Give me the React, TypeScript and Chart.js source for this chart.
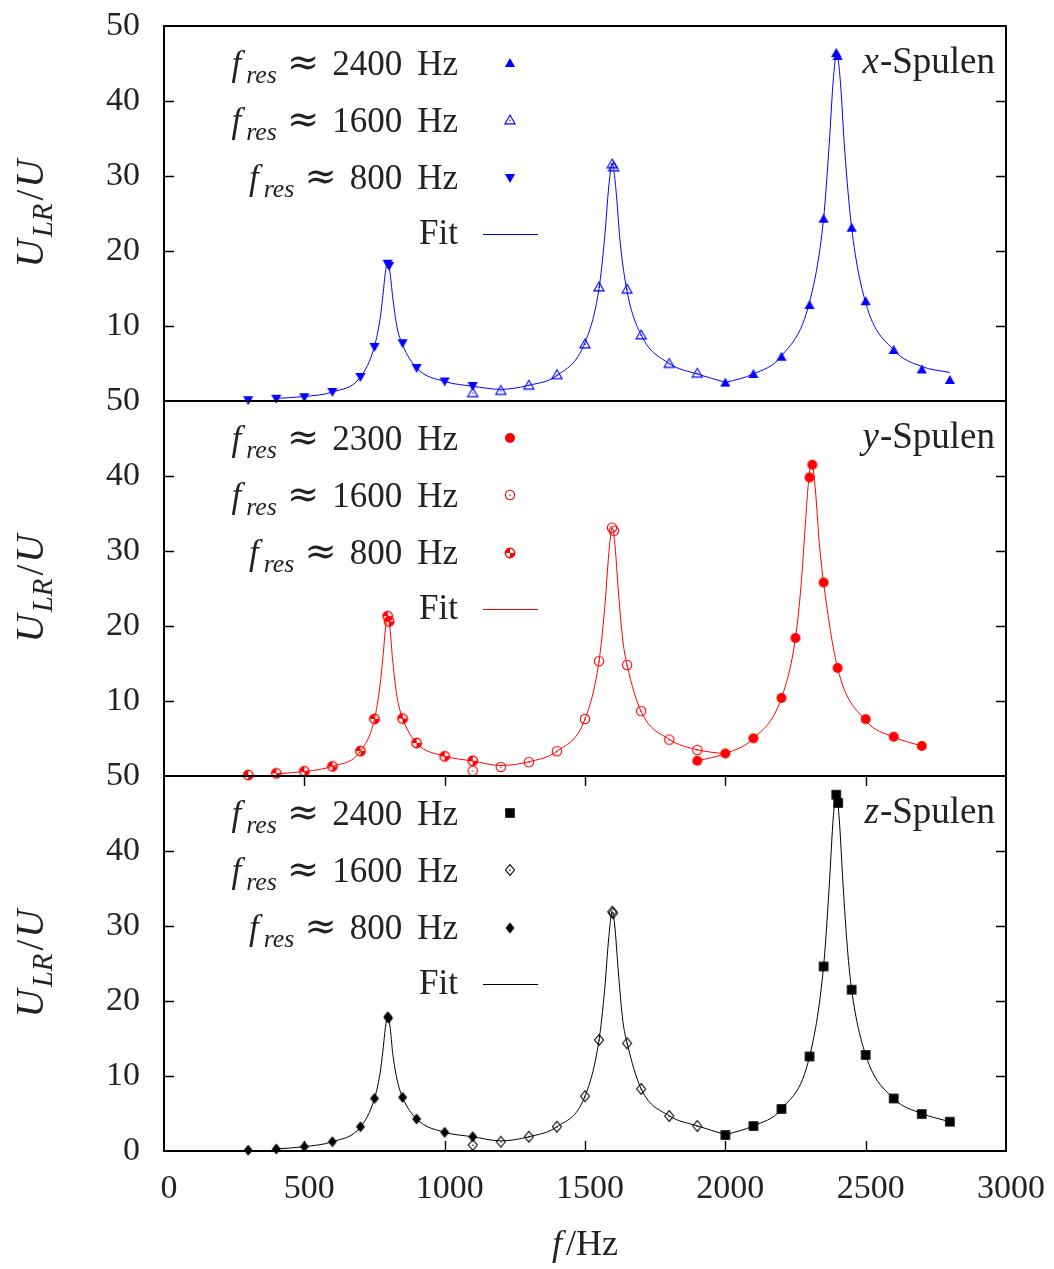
import React, { useEffect, useRef } from 'react';
import { Chart, registerables } from 'chart.js';

Chart.register(...registerables);

const SERIF = '"Liberation Serif", "Times New Roman", serif';
const MATHSYM = '"DejaVu Serif", serif';
const TEXT = '#222222';

// ---------- x-Spulen ----------
const freqX800 = [300, 400, 500, 600, 700, 750, 797, 802, 850, 900, 1000, 1100];
const uX800 = [0.1, 0.3, 0.5, 1.2, 3.2, 7.2, 18.3, 18.0, 7.7, 4.4, 2.6, 2.0];
const freqX1600 = [1100, 1200, 1300, 1400, 1500, 1550, 1597, 1602, 1650, 1700, 1800, 1900];
const uX1600 = [1.1, 1.4, 2.1, 3.5, 7.6, 15.2, 31.6, 31.2, 14.9, 8.8, 5.0, 3.7];
const freqX2400 = [2000, 2100, 2200, 2300, 2350, 2395, 2400, 2450, 2500, 2600, 2700, 2800];
const uX2400 = [2.45, 3.6, 5.9, 12.8, 24.3, 46.4, 46.0, 23.1, 13.3, 6.8, 4.2, 2.8];

const fitFreqX800 = [400, 500, 600, 700, 750, 770, 780, 790, 797, 805, 815, 830, 850, 900, 1000, 1100];
const fitUX800 = [0.35, 0.6, 1.2, 3.2, 7.3, 11.0, 14.1, 17.5, 18.5, 17.2, 13.8, 9.9, 7.5, 4.4, 2.6, 1.95];
const fitFreqX1600 = [1100, 1200, 1300, 1400, 1500, 1550, 1570, 1585, 1597, 1610, 1625, 1650, 1700, 1800, 1900, 2000];
const fitUX1600 = [1.95, 1.55, 2.1, 3.4, 7.8, 15.0, 21.8, 28.7, 31.7, 28.3, 21.3, 14.6, 8.8, 5.0, 3.6, 2.5];
const fitFreqX2400 = [2000, 2100, 2200, 2300, 2350, 2370, 2385, 2397, 2410, 2425, 2450, 2500, 2600, 2700, 2800];
const fitUX2400 = [2.45, 3.6, 6.0, 13.2, 24.3, 34.2, 43.0, 46.4, 42.5, 33.6, 23.1, 13.1, 6.8, 4.6, 3.8];

// ---------- y-Spulen ----------
const freqY800 = [300, 400, 500, 600, 700, 750, 797, 802, 850, 900, 1000, 1100];
const uY800 = [0.13, 0.35, 0.62, 1.28, 3.33, 7.6, 21.3, 20.6, 7.65, 4.4, 2.62, 2.02];
const freqY1600 = [1100, 1200, 1300, 1400, 1500, 1550, 1596, 1603, 1650, 1700, 1800, 1900];
const uY1600 = [0.7, 1.2, 1.85, 3.3, 7.6, 15.3, 33.1, 32.7, 14.8, 8.65, 4.85, 3.47];
const freqY2300 = [1900, 2000, 2100, 2200, 2250, 2300, 2310, 2350, 2400, 2500, 2600, 2700];
const uY2300 = [2.03, 3.0, 5.02, 10.4, 18.4, 39.8, 41.5, 25.8, 14.4, 7.58, 5.24, 4.0];

const fitFreqY800 = [400, 500, 600, 700, 750, 770, 780, 790, 797, 805, 815, 830, 850, 900, 1000, 1100];
const fitUY800 = [0.3, 0.6, 1.3, 3.3, 7.6, 12.2, 15.8, 20.0, 21.4, 19.7, 15.3, 10.6, 7.7, 4.4, 2.65, 2.0];
const fitFreqY1600 = [1100, 1200, 1300, 1400, 1500, 1550, 1570, 1585, 1597, 1605, 1620, 1635, 1650, 1700, 1800, 1900, 2000];
const fitUY1600 = [2.0, 1.4, 1.9, 3.3, 7.6, 15.3, 22.3, 29.7, 33.1, 31.5, 24.1, 18.0, 14.8, 8.6, 4.9, 3.5, 2.95];
const fitFreqY2300 = [1900, 2000, 2100, 2200, 2250, 2270, 2285, 2297, 2308, 2320, 2335, 2350, 2400, 2500, 2600, 2700];
const fitUY2300 = [2.0, 3.0, 5.0, 10.4, 18.4, 25.5, 33.5, 39.5, 41.9, 38.5, 31.0, 25.8, 14.4, 7.4, 5.2, 4.0];

// ---------- z-Spulen ----------
const freqZ800 = [300, 400, 500, 600, 700, 750, 797, 800, 850, 900, 1000, 1100];
const uZ800 = [0.1, 0.27, 0.58, 1.24, 3.24, 7.0, 17.9, 17.7, 7.15, 4.27, 2.49, 1.9];
const freqZ1600 = [1100, 1200, 1300, 1400, 1500, 1550, 1597, 1600, 1650, 1700, 1800, 1900];
const uZ1600 = [0.8, 1.24, 1.9, 3.24, 7.3, 14.8, 31.9, 31.7, 14.36, 8.27, 4.67, 3.33];
const freqZ2400 = [2000, 2100, 2200, 2300, 2350, 2395, 2402, 2450, 2500, 2600, 2700, 2800];
const uZ2400 = [2.13, 3.33, 5.6, 12.6, 24.6, 47.5, 46.4, 21.5, 12.8, 7.0, 4.93, 3.9];

const fitFreqZ800 = [400, 500, 600, 700, 750, 770, 780, 790, 797, 805, 815, 830, 850, 900, 1000, 1100];
const fitUZ800 = [0.27, 0.58, 1.24, 3.2, 7.0, 10.4, 13.4, 16.8, 17.9, 16.7, 13.0, 9.6, 7.15, 4.27, 2.5, 1.9];
const fitFreqZ1600 = [1100, 1200, 1300, 1400, 1500, 1550, 1570, 1585, 1597, 1605, 1620, 1635, 1650, 1700, 1800, 1900, 2000];
const fitUZ1600 = [1.9, 1.35, 1.9, 3.24, 7.3, 14.8, 21.5, 28.6, 31.9, 30.4, 23.3, 17.3, 14.4, 8.3, 4.7, 3.35, 2.2];
const fitFreqZ2400 = [2000, 2100, 2200, 2300, 2350, 2370, 2385, 2395, 2405, 2420, 2435, 2450, 2500, 2600, 2700, 2800];
const fitUZ2400 = [2.15, 3.35, 5.6, 12.6, 24.6, 35.2, 44.7, 47.6, 44.7, 35.2, 27.0, 21.5, 12.8, 7.0, 5.0, 3.9];

// legend labels & axis ticks
const legendFreqsX = ['2400', '1600', '800'];
const legendFreqsY = ['2300', '1600', '800'];
const legendFreqsZ = ['2400', '1600', '800'];
const panelNames = ['x', 'y', 'z'];
const fitLabel = 'Fit';
const xTickStep = 500;
const yTickStep = 10;

type Run = { t: string; it?: boolean; sub?: boolean; gap?: number; font?: string; scale?: number };

function runFont(r: Run, size: number) {
  let s = r.sub ? size * 0.74 : size;
  if (r.scale) s *= r.scale;
  return `${r.it ? 'italic ' : ''}${s}px ${r.font || SERIF}`;
}
function measureRuns(ctx: CanvasRenderingContext2D, runs: Run[], size: number) {
  let w = 0;
  for (const r of runs) {
    ctx.font = runFont(r, size);
    w += ctx.measureText(r.t).width + (r.gap || 0);
  }
  return w;
}
function drawRuns(ctx: CanvasRenderingContext2D, runs: Run[], x: number, y: number, size: number, align: 'left' | 'right' | 'center') {
  const w = measureRuns(ctx, runs, size);
  let cx = align === 'right' ? x - w : align === 'center' ? x - w / 2 : x;
  ctx.textAlign = 'left';
  ctx.textBaseline = 'alphabetic';
  ctx.fillStyle = TEXT;
  for (const r of runs) {
    ctx.font = runFont(r, size);
    ctx.fillText(r.t, cx, y + (r.sub ? size * 0.24 : 0));
    cx += ctx.measureText(r.t).width + (r.gap || 0);
  }
}

function makeMarker(kind: string, color: string): HTMLCanvasElement {
  const c = document.createElement('canvas');
  c.width = 16;
  c.height = 16;
  const g = c.getContext('2d') as CanvasRenderingContext2D;
  g.fillStyle = color;
  g.strokeStyle = color;
  g.lineWidth = 1.1;
  const dot = () => g.fillRect(7.4, 7.6, 1.3, 1.3);
  const poly = (pts: number[][]) => {
    g.beginPath();
    g.moveTo(pts[0][0], pts[0][1]);
    for (let i = 1; i < pts.length; i++) g.lineTo(pts[i][0], pts[i][1]);
    g.closePath();
  };
  const up = [[8, 3.0], [13.1, 11.9], [2.9, 11.9]];
  const down = [[2.9, 4.1], [13.1, 4.1], [8, 13.0]];
  const dia = [[8, 2.6], [12.5, 8], [8, 13.4], [3.5, 8]];
  switch (kind) {
    case 'triUp': poly(up); g.fill(); break;
    case 'triUpOpen': poly(up); g.stroke(); dot(); break;
    case 'triDown': poly(down); g.fill(); break;
    case 'circle': g.beginPath(); g.arc(8, 8, 5.0, 0, Math.PI * 2); g.fill(); break;
    case 'circleOpen': g.beginPath(); g.arc(8, 8, 4.7, 0, Math.PI * 2); g.stroke(); dot(); break;
    case 'circleQuad':
      g.lineWidth = 1.5;
      g.beginPath(); g.arc(8, 8, 4.7, 0, Math.PI * 2); g.stroke();
      g.beginPath(); g.moveTo(8, 8); g.arc(8, 8, 4.9, Math.PI, 1.5 * Math.PI); g.closePath(); g.fill();
      g.beginPath(); g.moveTo(8, 8); g.arc(8, 8, 4.9, 0, 0.5 * Math.PI); g.closePath(); g.fill();
      break;
    case 'square': g.fillRect(3.2, 3.2, 9.6, 9.6); break;
    case 'diamond': poly(dia); g.fill(); break;
    case 'diamondOpen': poly(dia); g.stroke(); dot(); break;
  }
  return c;
}

type Series = { x: number[]; y: number[]; marker: string };
type Fit = { x: number[]; y: number[] };
type Panel = {
  name: string; color: string; top: number; height: number; padTop: number; padBottom: number;
  showX: boolean; hideZero: boolean; freqs: string[]; series: Series[]; fits: Fit[];
};

const PANELS: Panel[] = [
  {
    name: panelNames[0], color: '#0000ff', top: 0, height: 426, padTop: 26, padBottom: 25, showX: false, hideZero: true,
    freqs: legendFreqsX,
    series: [
      { x: freqX2400, y: uX2400, marker: 'triUp' },
      { x: freqX1600, y: uX1600, marker: 'triUpOpen' },
      { x: freqX800, y: uX800, marker: 'triDown' },
    ],
    fits: [{ x: fitFreqX800, y: fitUX800 }, { x: fitFreqX1600, y: fitUX1600 }, { x: fitFreqX2400, y: fitUX2400 }],
  },
  {
    name: panelNames[1], color: '#ff0000', top: 376, height: 425, padTop: 25, padBottom: 25, showX: false, hideZero: true,
    freqs: legendFreqsY,
    series: [
      { x: freqY2300, y: uY2300, marker: 'circle' },
      { x: freqY1600, y: uY1600, marker: 'circleOpen' },
      { x: freqY800, y: uY800, marker: 'circleQuad' },
    ],
    fits: [{ x: fitFreqY800, y: fitUY800 }, { x: fitFreqY1600, y: fitUY1600 }, { x: fitFreqY2300, y: fitUY2300 }],
  },
  {
    name: panelNames[2], color: '#000000', top: 751, height: 518, padTop: 25, padBottom: 0, showX: true, hideZero: false,
    freqs: legendFreqsZ,
    series: [
      { x: freqZ2400, y: uZ2400, marker: 'square' },
      { x: freqZ1600, y: uZ1600, marker: 'diamondOpen' },
      { x: freqZ800, y: uZ800, marker: 'diamond' },
    ],
    fits: [{ x: fitFreqZ800, y: fitUZ800 }, { x: fitFreqZ1600, y: fitUZ1600 }, { x: fitFreqZ2400, y: fitUZ2400 }],
  },
];

function buildChart(canvas: HTMLCanvasElement, p: Panel) {
  const images = p.series.map((s) => makeMarker(s.marker, p.color));
  const datasets: any[] = [];
  p.series.forEach((s, i) => {
    datasets.push({
      data: s.x.map((v, k) => ({ x: v, y: s.y[k] })),
      showLine: false,
      pointStyle: images[i],
      pointRadius: 5,
      clip: false,
      order: 0,
    });
  });
  p.fits.forEach((f) => {
    datasets.push({
      data: f.x.map((v, k) => ({ x: v, y: f.y[k] })),
      showLine: true,
      borderColor: p.color,
      borderWidth: 1,
      pointRadius: 0,
      cubicInterpolationMode: 'monotone',
      fill: false,
      clip: false,
      order: 1,
    });
  });

  const decor = {
    id: 'decor' + p.name,
    beforeDatasetsDraw(chart: any) {
      const { ctx, chartArea: a } = chart;
      const xs = chart.scales.x;
      const ys = chart.scales.y;
      ctx.save();
      ctx.strokeStyle = '#000';
      ctx.lineWidth = 1.4;
      ctx.beginPath();
      for (let v = yTickStep; v < 50; v += yTickStep) {
        const py = Math.round(ys.getPixelForValue(v)) + 0.5;
        ctx.moveTo(a.left, py); ctx.lineTo(a.left + 10, py);
        ctx.moveTo(a.right, py); ctx.lineTo(a.right - 10, py);
      }
      if (p.showX) {
        for (let v = xTickStep; v < 3000; v += xTickStep) {
          const px = Math.round(xs.getPixelForValue(v)) + 0.5;
          ctx.moveTo(px, a.top); ctx.lineTo(px, a.top + 10);
          ctx.moveTo(px, a.bottom); ctx.lineTo(px, a.bottom - 10);
        }
      }
      ctx.stroke();
      ctx.lineWidth = 2;
      ctx.strokeRect(a.left, a.top, a.right - a.left, a.bottom - a.top);
      ctx.restore();
    },
    afterDraw(chart: any) {
      const { ctx, chartArea: a } = chart;
      ctx.save();
      const size = 35;
      // legend
      const textRight = a.left + 294;
      const baselines = [49, 106, 163];
      const markerY = [37, 94, 152];
      p.freqs.forEach((fr, i) => {
        const runs: Run[] = [
          { t: 'f', it: true, gap: 5 },
          { t: 'res', it: true, sub: true, gap: 10 },
          { t: '\u2248', font: MATHSYM, scale: 1.1, gap: 13 },
          { t: fr, gap: 15 },
          { t: 'Hz' },
        ];
        drawRuns(ctx, runs, textRight, a.top + baselines[i], size, 'right');
        ctx.drawImage(images[i], a.left + 346 - 8, a.top + markerY[i] - 8);
      });
      drawRuns(ctx, [{ t: fitLabel }], textRight, a.top + 218, size, 'right');
      ctx.strokeStyle = p.color;
      ctx.lineWidth = 1;
      ctx.beginPath();
      ctx.moveTo(a.left + 319, a.top + 208.5);
      ctx.lineTo(a.left + 374, a.top + 208.5);
      ctx.stroke();
      // panel name
      drawRuns(ctx, [{ t: p.name, it: true, gap: 1 }, { t: '-Spulen' }], a.right - 11, a.top + 47, 37, 'right');
      // y title
      ctx.save();
      ctx.translate(a.left - 121, (a.top + a.bottom) / 2);
      ctx.rotate(-Math.PI / 2);
      drawRuns(ctx, [{ t: 'U', it: true, gap: 2 }, { t: 'LR', it: true, sub: true, gap: 3 }, { t: '/', gap: 2 }, { t: 'U', it: true }], 0, 0, 39, 'center');
      ctx.restore();
      // x title
      if (p.showX) {
        drawRuns(ctx, [{ t: 'f', it: true, gap: 4 }, { t: '/Hz' }], (a.left + a.right) / 2, a.bottom + 104, 36, 'center');
      }
      ctx.restore();
    },
  };

  return new Chart(canvas, {
    type: 'line',
    data: { datasets },
    options: {
      responsive: false,
      maintainAspectRatio: false,
      animation: false,
      events: [],
      layout: { padding: { left: 0, right: 48, top: p.padTop, bottom: p.padBottom } },
      plugins: { legend: { display: false }, tooltip: { enabled: false } },
      scales: {
        x: {
          type: 'linear',
          min: 0,
          max: 3000,
          display: p.showX,
          grid: { display: false, drawTicks: false },
          border: { display: false },
          ticks: {
            stepSize: xTickStep,
            autoSkip: false,
            maxRotation: 0,
            padding: 18,
            labelOffset: 5,
            color: TEXT,
            font: { family: SERIF, size: 34 },
            callback: (v: any) => String(v),
          },
          afterFit: (s: any) => {
            s.height = p.showX ? 118 : 0;
            s.paddingLeft = 0;
            s.paddingRight = 0;
            s.paddingTop = 0;
            s.paddingBottom = 0;
          },
        },
        y: {
          type: 'linear',
          min: 0,
          max: 50,
          grid: { display: false, drawTicks: false },
          border: { display: false },
          ticks: {
            stepSize: yTickStep,
            padding: 24,
            color: TEXT,
            font: { family: SERIF, size: 34 },
            callback: (v: any) => (p.hideZero && v === 0 ? '' : String(v)),
          },
          afterFit: (s: any) => {
            s.width = 164;
            s.paddingTop = 0;
            s.paddingBottom = 0;
            s.paddingLeft = 0;
            s.paddingRight = 0;
          },
        },
      },
    } as any,
    plugins: [decor],
  });
}

export default function App() {
  const refs = [useRef<HTMLCanvasElement>(null), useRef<HTMLCanvasElement>(null), useRef<HTMLCanvasElement>(null)];
  useEffect(() => {
    const charts = PANELS.map((p, i) => buildChart(refs[i].current as HTMLCanvasElement, p));
    return () => charts.forEach((c) => c.destroy());
  }, []);
  return (
    <div style={{ position: 'absolute', left: 0, top: 0, width: 1054, height: 1269, background: '#fff', overflow: 'hidden' }}>
      {PANELS.map((p, i) => (
        <canvas
          key={p.name}
          ref={refs[i]}
          width={1054}
          height={p.height}
          style={{ position: 'absolute', left: 0, top: p.top, width: 1054, height: p.height }}
        />
      ))}
    </div>
  );
}
